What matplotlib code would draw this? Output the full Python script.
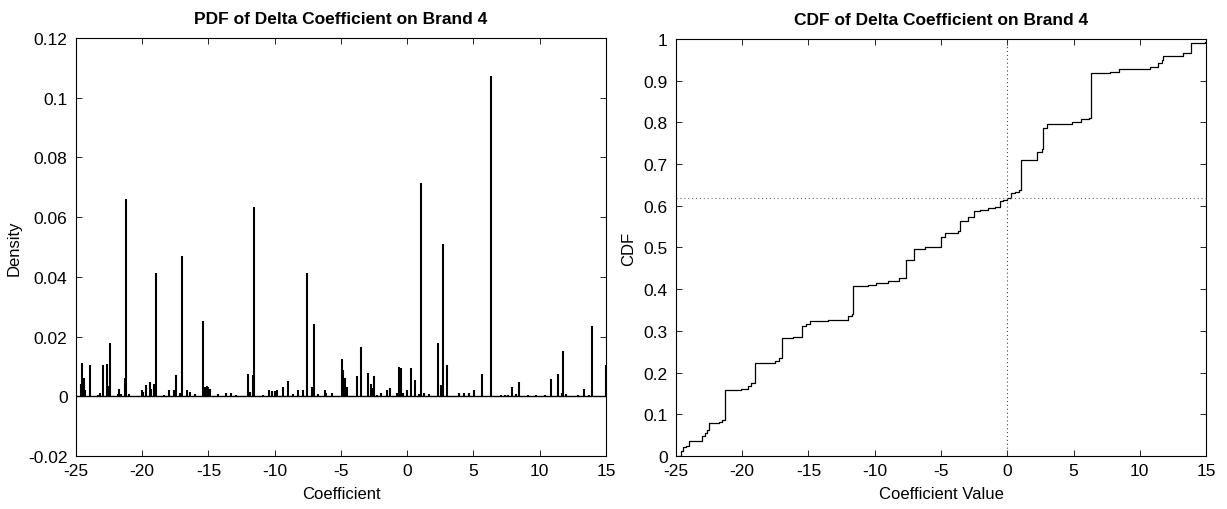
import matplotlib
matplotlib.use("Agg")
import matplotlib.pyplot as plt
import numpy as np

plt.rcParams['font.family'] = ['Liberation Sans', 'DejaVu Sans']

# ---- PDF data (spike locations and densities) ----
pdf_x = [-24.6, -24.55, -24.37, -24.3, -23.94, -23.3, -23.2, -22.99, -22.66, -22.6,
         -22.43, -21.8, -21.73, -21.6, -21.33, -21.23, -20.97, -20.04, -19.95, -19.69,
         -19.42, -19.32, -19.09, -18.96, -18.35, -17.98, -17.6, -17.48, -17.15, -16.98,
         -16.65, -16.4, -16.05, -15.44, -15.29, -15.14, -15.0, -14.9, -14.3, -13.7,
         -13.3, -12.9, -12.04, -11.85, -11.67, -11.59, -10.9, -10.41, -10.2, -10.0,
         -9.85, -9.40, -9.0, -8.6, -8.27, -7.9, -7.57, -7.2, -7.04, -6.7,
         -6.2, -6.1, -5.7, -4.95, -4.85, -4.7, -4.52, -3.77, -3.51, -2.99,
         -2.76, -2.63, -2.51, -2.3, -1.97, -1.52, -1.30, -0.75, -0.60, -0.47,
         -0.32, 0.0, 0.28, 0.58, 0.9, 1.04, 1.3, 1.65, 2.30, 2.57,
         2.67, 2.98, 3.9, 4.25, 4.65, 5.01, 5.64, 6.32, 7.1, 7.4,
         7.6, 7.91, 8.2, 8.43, 9.1, 9.7, 10.4, 10.85, 11.38, 11.65,
         11.75, 12.0, 12.9, 13.34, 13.7, 13.94, 14.98]
pdf_h = [0.004, 0.0112, 0.006, 0.0022, 0.0105, 0.0005, 0.001, 0.0105, 0.0108, 0.0036,
         0.0179, 0.0008, 0.0025, 0.0008, 0.006, 0.0661, 0.0008, 0.002, 0.0015, 0.0038,
         0.0049, 0.0025, 0.0041, 0.0413, 0.0005, 0.002, 0.002, 0.0072, 0.001, 0.0469,
         0.002, 0.0016, 0.0008, 0.0251, 0.003, 0.0036, 0.003, 0.0025, 0.0008, 0.001,
         0.001, 0.0004, 0.0075, 0.0015, 0.0072, 0.0635, 0.0005, 0.002, 0.0017, 0.0017,
         0.002, 0.0032, 0.005, 0.0008, 0.002, 0.002, 0.0413, 0.0032, 0.0242, 0.0008,
         0.002, 0.0012, 0.0012, 0.0125, 0.0088, 0.0061, 0.0032, 0.0067, 0.0166, 0.0078,
         0.0041, 0.0028, 0.0067, 0.0005, 0.001, 0.002, 0.0028, 0.001, 0.0097, 0.0094,
         0.001, 0.002, 0.0095, 0.0055, 0.0008, 0.0715, 0.001, 0.0008, 0.0179, 0.0039,
         0.0511, 0.0105, 0.001, 0.0012, 0.0012, 0.0022, 0.0075, 0.1072, 0.0003, 0.0003,
         0.0005, 0.003, 0.0008, 0.0047, 0.0003, 0.0003, 0.0003, 0.0058, 0.0075, 0.001,
         0.0151, 0.0009, 0.0003, 0.0025, 0.0005, 0.0235, 0.0105]

# ---- CDF data (step function, value after each step) ----
cdf_x = [-25.0, -24.6, -24.45, -24.25, -24.0, -23.0, -22.8, -22.65, -22.48, -21.78,
         -21.5, -21.32, -21.28, -20.1, -19.6, -19.3, -19.02, -18.1, -17.5, -17.2,
         -17.02, -16.2, -15.47, -15.2, -14.85, -13.5, -12.05, -12.0, -11.7, -11.62,
         -10.5, -9.9, -9.0, -8.2, -7.62, -7.06, -6.2, -5.5, -4.97, -4.7,
         -3.75, -3.55, -2.95, -2.5, -2.05, -1.45, -0.9, -0.55, -0.3, 0.0,
         0.3, 0.6, 0.9, 1.02, 2.25, 2.62, 2.68, 3.0, 4.9, 5.6,
         6.2, 6.3, 7.75, 8.4, 10.8, 11.4, 11.65, 11.73, 13.3, 13.85,
         13.9, 14.9, 15.0]
cdf_y = [0.0, 0.013, 0.021, 0.024, 0.035, 0.047, 0.054, 0.062, 0.079, 0.082,
         0.087, 0.091, 0.159, 0.161, 0.168, 0.174, 0.222, 0.224, 0.228, 0.234,
         0.282, 0.285, 0.311, 0.317, 0.323, 0.325, 0.329, 0.335, 0.341, 0.408,
         0.409, 0.415, 0.420, 0.427, 0.470, 0.497, 0.500, 0.502, 0.524, 0.535,
         0.540, 0.564, 0.572, 0.587, 0.590, 0.594, 0.596, 0.612, 0.615, 0.619,
         0.630, 0.634, 0.638, 0.710, 0.728, 0.735, 0.787, 0.796, 0.802, 0.807,
         0.811, 0.918, 0.920, 0.928, 0.933, 0.942, 0.950, 0.960, 0.966, 0.968,
         0.990, 0.992, 0.992]
ref_x = 0.0
ref_y = 0.619

x_ticks = [-25, -20, -15, -10, -5, 0, 5, 10, 15]
pdf_yticks = [-0.02, 0, 0.02, 0.04, 0.06, 0.08, 0.1, 0.12]
pdf_ylabels = ['-0.02', '0', '0.02', '0.04', '0.06', '0.08', '0.1', '0.12']
cdf_yticks = [0, 0.1, 0.2, 0.3, 0.4, 0.5, 0.6, 0.7, 0.8, 0.9, 1]
cdf_ylabels = ['0', '0.1', '0.2', '0.3', '0.4', '0.5', '0.6', '0.7', '0.8', '0.9', '1']

fig = plt.figure(figsize=(12.27, 5.10), dpi=100)
ax1 = fig.add_axes([0.0619, 0.1039, 0.4320, 0.8196])
ax2 = fig.add_axes([0.5509, 0.1039, 0.4320, 0.8177])

def style(ax):
    ax.tick_params(direction='in', top=True, right=True, length=4, width=0.6,
                   labelsize=12.5, colors='black')
    ax.tick_params(axis='y', pad=6)
    ax.tick_params(axis='x', pad=5)
    for s in ax.spines.values():
        s.set_linewidth(0.8)
        s.set_color('black')
    ax.set_xticks(x_ticks)
    ax.set_xticklabels([str(t) for t in x_ticks])

# PDF
ax1.vlines(pdf_x, 0, pdf_h, color='black', linewidth=1.5)
ax1.axhline(0, color='black', linewidth=1.0)
ax1.set_xlim(-25, 15)
ax1.set_ylim(-0.02, 0.12)
ax1.set_yticks(pdf_yticks)
ax1.set_yticklabels(pdf_ylabels)
style(ax1)
ax1.set_title('PDF of Delta Coefficient on Brand 4', fontsize=12.5, fontweight='bold', pad=11)
ax1.set_xlabel('Coefficient', fontsize=12, labelpad=6)
ax1.set_ylabel('Density', fontsize=12, labelpad=5)

# CDF
ax2.plot(cdf_x, cdf_y, drawstyle='steps-post', color='black', linewidth=0.9)
ax2.axvline(ref_x, color='#444444', linestyle=(0, (1, 2.5)), linewidth=0.8)
ax2.axhline(ref_y, color='#666666', linestyle=(0, (1, 2.5)), linewidth=0.8)
ax2.set_xlim(-25, 15)
ax2.set_ylim(0, 1)
ax2.set_yticks(cdf_yticks)
ax2.set_yticklabels(cdf_ylabels)
style(ax2)
ax2.set_title('CDF of Delta Coefficient on Brand 4', fontsize=12.5, fontweight='bold', pad=11)
ax2.set_xlabel('Coefficient Value', fontsize=12, labelpad=6)
ax2.set_ylabel('CDF', fontsize=12, labelpad=5)

fig.savefig('out.png', dpi=100)
